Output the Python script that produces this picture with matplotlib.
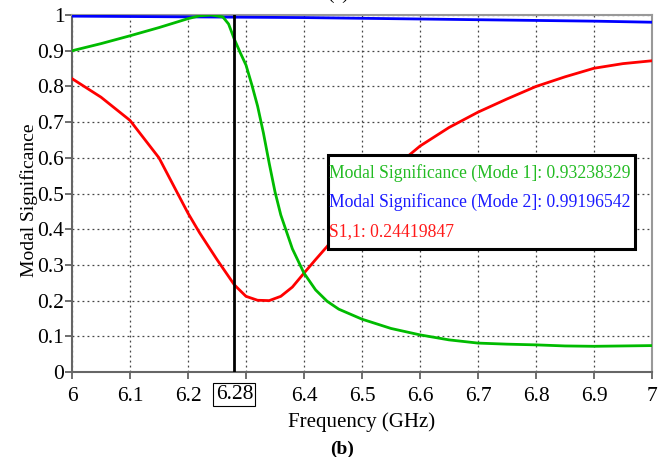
import matplotlib.pyplot as plt

freq_mode1 = [6.00, 6.05, 6.10, 6.15, 6.20, 6.22, 6.24, 6.26, 6.27, 6.28, 6.29, 6.30,
              6.31, 6.32, 6.33, 6.34, 6.35, 6.36, 6.38, 6.40, 6.42, 6.44, 6.46, 6.50,
              6.55, 6.60, 6.65, 6.70, 6.75, 6.80, 6.85, 6.90, 6.95, 7.00]
ms_mode1 = [0.900, 0.920, 0.942, 0.965, 0.990, 0.998, 1.000, 0.995, 0.975, 0.932, 0.895, 0.860,
            0.805, 0.745, 0.670, 0.585, 0.505, 0.440, 0.345, 0.277, 0.230, 0.198, 0.176, 0.148,
            0.122, 0.104, 0.090, 0.081, 0.078, 0.076, 0.073, 0.072, 0.073, 0.074]

freq_mode2 = [6.00, 6.10, 6.20, 6.30, 6.40, 6.50, 6.60, 6.70, 6.80, 6.90, 7.00]
ms_mode2 = [0.997, 0.996, 0.995, 0.994, 0.993, 0.991, 0.989, 0.987, 0.985, 0.983, 0.980]

freq_s11 = [6.00, 6.05, 6.10, 6.15, 6.20, 6.22, 6.25, 6.28, 6.30, 6.32, 6.34, 6.36,
            6.38, 6.40, 6.42, 6.44, 6.47, 6.50, 6.55, 6.60, 6.65, 6.70, 6.75, 6.80,
            6.85, 6.90, 6.95, 7.00]
s11 = [0.822, 0.770, 0.705, 0.600, 0.445, 0.390, 0.315, 0.244, 0.212, 0.201, 0.200, 0.212,
       0.238, 0.277, 0.315, 0.352, 0.415, 0.470, 0.565, 0.633, 0.685, 0.728, 0.765, 0.800,
       0.827, 0.851, 0.864, 0.872]

marker_freq = 6.28
x_ticks = [6, 6.1, 6.2, 6.3, 6.4, 6.5, 6.6, 6.7, 6.8, 6.9, 7]
x_tick_labels = ["6", "6.1", "6.2", "", "6.4", "6.5", "6.6", "6.7", "6.8", "6.9", "7"]
y_ticks = [0, 0.1, 0.2, 0.3, 0.4, 0.5, 0.6, 0.7, 0.8, 0.9, 1]
y_tick_labels = ["0", "0.1", "0.2", "0.3", "0.4", "0.5", "0.6", "0.7", "0.8", "0.9", "1"]
legend_lines = [
    ("Modal Significance (Mode 1]: 0.93238329", "#22bb22"),
    ("Modal Significance (Mode 2]: 0.99196542", "#1a1aff"),
    ("S1,1: 0.24419847", "#ff1a1a"),
]

plt.rcParams["font.family"] = ["Liberation Serif", "DejaVu Serif"]

fig = plt.figure(figsize=(6.69, 4.57), dpi=100)
ax = fig.add_axes([0.1076, 0.186, 0.8670, 0.781])

ax.plot(freq_mode2, ms_mode2, color="#0000ff", lw=2.0, zorder=3)
ax.plot(freq_s11, s11, color="#ff0000", lw=2.0, zorder=3)
ax.plot(freq_mode1, ms_mode1, color="#00bb00", lw=2.0, zorder=3)
ax.axvline(marker_freq, color="black", lw=2.0, zorder=4)

ax.set_xlim(6, 7)
ax.set_ylim(0, 1)
ax.set_xticks(x_ticks)
ax.set_xticklabels(x_tick_labels)
ax.set_yticks(y_ticks)
ax.set_yticklabels(y_tick_labels)
ax.tick_params(labelsize=15.5, length=5, color="#555555", width=1.2)
ax.tick_params(axis="x", pad=6)
ax.tick_params(axis="y", pad=0.5)
ax.grid(True, color="#444444", linestyle=(0, (1.5, 2.5)), linewidth=0.9)
for spine in ax.spines.values():
    spine.set_color("#999999")
    spine.set_linewidth(1.5)
ax.spines["left"].set_color("#666666")
ax.spines["bottom"].set_color("#666666")

ax.text(marker_freq, -0.037, "6.28", ha="center", va="top", fontsize=15.5,
        transform=ax.get_xaxis_transform(),
        bbox=dict(boxstyle="square,pad=0.1", fc="white", ec="black", lw=0.8))

ax.set_xlabel("Frequency (GHz)", fontsize=15, labelpad=4)
ax.set_ylabel("Modal Significance", fontsize=14)
ax.yaxis.set_label_coords(-0.059, 0.48)

# marker readout box
box = plt.Rectangle((6.441, 0.345), 0.53, 0.262, transform=ax.transData,
                    fc="white", ec="black", lw=2.2, zorder=5)
ax.add_patch(box)
for i, (txt, col) in enumerate(legend_lines):
    ax.text(6.443, 0.558 - i * 0.082, txt, color=col, fontsize=12.7,
            va="center", ha="left", zorder=6)

fig.text(0.511, 0.016, "(b)", ha="center", va="center",
         fontsize=14, fontweight="bold")
fig.text(0.505, 1.012, "(a)", ha="center", va="center", fontsize=14)

fig.savefig("out.png", dpi=100)
